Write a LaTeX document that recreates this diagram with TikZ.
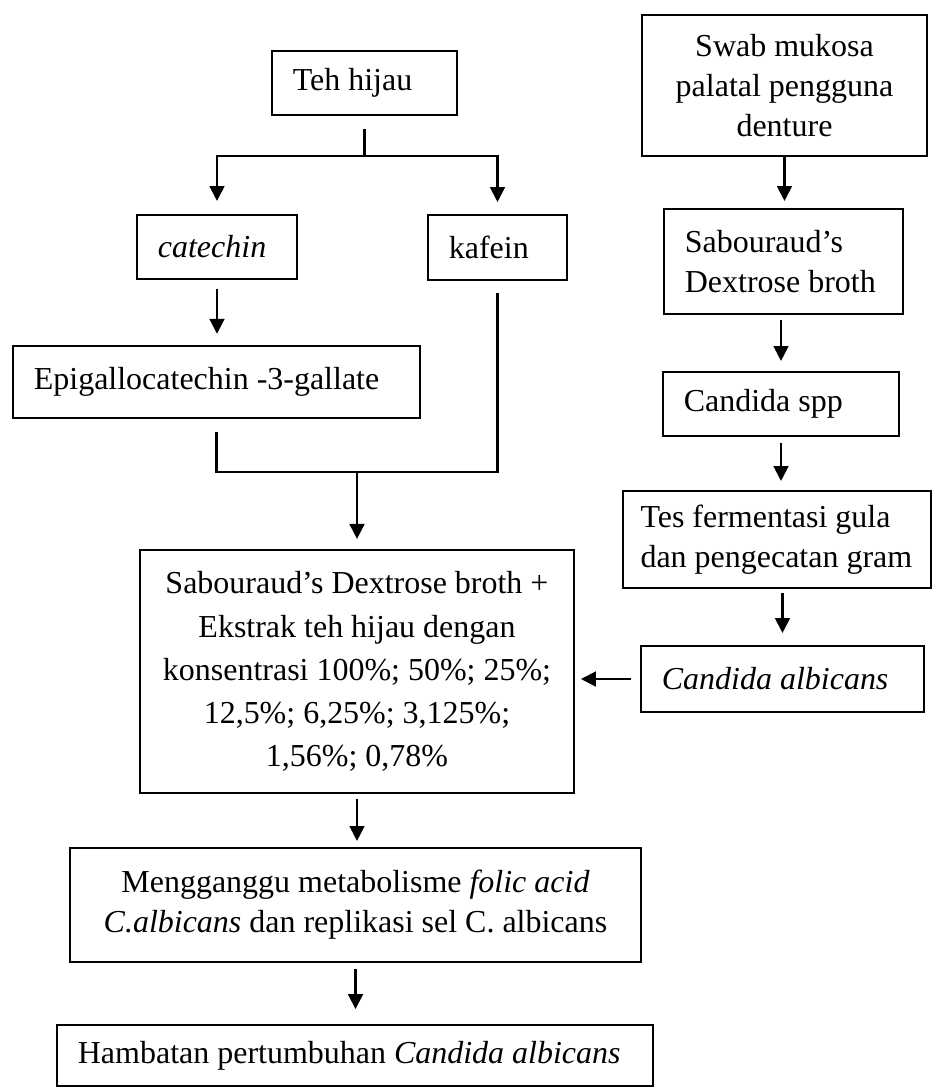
\documentclass[tikz,border=0pt]{standalone}
\usepackage{fontspec}
\setmainfont{Liberation Serif}
\usetikzlibrary{arrows.meta}

\tikzset{
  box/.style={shape=rectangle, draw=black, line width=0.8pt, inner xsep=7.7pt, inner ysep=0pt, font=\fontsize{11.8}{14.8}\selectfont},
  lbox/.style={box, align=flush left},
  cbox/.style={box, align=center},
  link/.style={line width=0.75pt},
  flow/.style={link, -{Triangle[length=5.5pt,width=5.5pt]}, shorten >=3.7pt},
}

\begin{document}
\begin{tikzpicture}[x=0.369pt, y=-0.369pt]
\useasboundingbox (0,0) rectangle (933,1088);

\node[lbox, text width=52.9pt, minimum height=23.6pt](teh) at (364.5,83) {Teh hijau};
\node[cbox, minimum width=105.2pt, minimum height=52pt](swab) at (784.5,85.5) {Swab mukosa\\palatal pengguna\\denture};
\node[lbox, text width=43.6pt, minimum height=23.6pt](cat) at (217,247) {\textit{catechin}};
\node[lbox, text width=35.9pt, minimum height=24pt](kaf) at (497.5,247.5) {kafein};
\node[lbox, text width=72.8pt, minimum height=38.7pt](sdb) at (783.5,261.5) {Sabouraud's\\Dextrose broth};
\node[lbox, text width=134.8pt, minimum height=26.6pt](egcg) at (216.5,382) {Epigallocatechin -3-gallate};
\node[lbox, text width=71.7pt, minimum height=23.6pt](spp) at (781,404) {Candida spp};
\node[lbox, inner xsep=6.5pt, text width=100.7pt, minimum height=35.8pt](tes) at (777,539.5) {Tes fermentasi gula\\dan pengecatan gram};
\node[cbox, minimum width=160.1pt, minimum height=89.7pt, font=\fontsize{11.8}{15.9}\selectfont](mix) at (357,671.5) {Sabouraud's Dextrose broth +\\Ekstrak teh hijau dengan\\konsentrasi 100\%; 50\%; 25\%;\\12,5\%; 6,25\%; 3,125\%;\\1,56\%; 0,78\%};
\node[lbox, text width=89pt, minimum height=24.4pt](alb) at (782.5,679) {\textit{Candida albicans}};
\node[cbox, minimum width=210.7pt, minimum height=42.1pt](ganggu) at (355.5,905) {Mengganggu metabolisme \textit{folic acid}\\\textit{C.albicans} dan replikasi sel C. albicans};
\node[lbox, text width=204.5pt, minimum height=22.5pt](hambat) at (355,1055.5) {Hambatan pertumbuhan \textit{Candida albicans}};

\coordinate (split) at (364.5,156);
\coordinate (merge) at (357,472);

\path[link, shorten <=4.8pt] (teh.south) edge (split);
\draw[flow, shorten >=4.8pt] (split) -| (cat.north);
\draw[flow, shorten >=4.4pt] (split) -| (kaf.north);
\path[flow, shorten <=3.3pt, shorten >=4.1pt] (cat.south) edge (cat.south |- egcg.north);
\draw[link, shorten <=4.8pt, shorten >=4.4pt] (egcg.south) |- (merge -| kaf.south) -- (kaf.south);
\path[flow] (merge) edge (mix.north);

\path[flow, shorten >=2.6pt] (swab.south) edge (swab.south |- sdb.north);
\path[flow, shorten <=1.8pt] (spp.north |- sdb.south) edge (spp.north);
\path[flow, shorten <=2.2pt, shorten >=3.3pt] (spp.south) edge (spp.south |- tes.north);
\path[flow, shorten <=1.5pt, shorten >=4.4pt] (alb.north |- tes.south) edge (alb.north);
\path[flow, shorten <=3.3pt, shorten >=2.2pt] (alb.west) edge (alb.west -| mix.east);

\path[flow, shorten <=1.8pt, shorten >=2.2pt] (mix.south) edge (mix.south |- ganggu.north);
\path[flow, shorten <=2.2pt, shorten >=5.5pt] (ganggu.south) edge (ganggu.south |- hambat.north);
\end{tikzpicture}
\end{document}
